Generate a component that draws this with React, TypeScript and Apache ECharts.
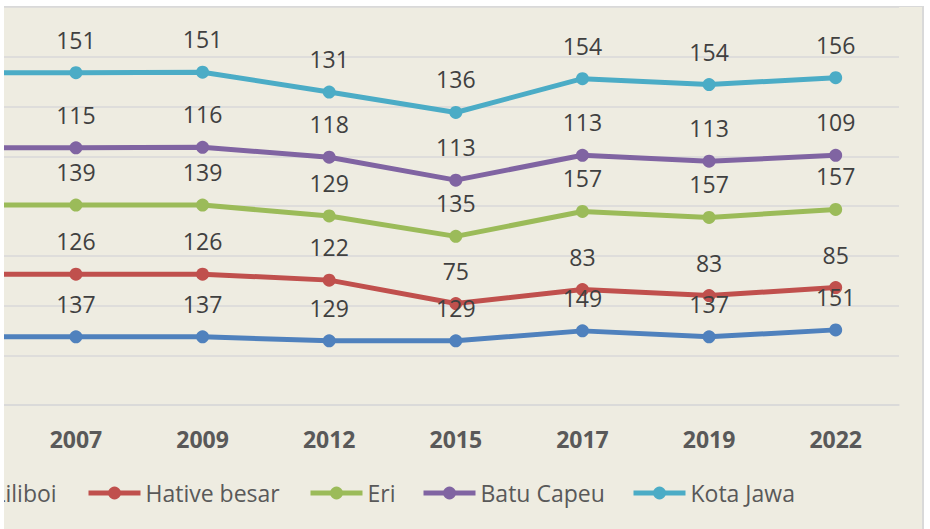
import React, { useEffect, useRef } from "react";
import * as echarts from "echarts";

const categories = ["2005", "2007", "2009", "2012", "2015", "2017", "2019", "2022"];
const seriesNames = ["Liliboi", "Hative besar", "Eri", "Batu Capeu", "Kota Jawa"];
const liliboi = [137, 137, 137, 129, 129, 149, 137, 151];
const hativeBesar = [126, 126, 126, 122, 75, 83, 83, 85];
const eri = [139, 139, 139, 129, 135, 157, 157, 157];
const batuCapeu = [115, 115, 116, 118, 113, 113, 113, 109];
const kotaJawa = [151, 151, 151, 131, 136, 154, 154, 156];
const colors = ["#4F81BD", "#C0504D", "#9BBB59", "#8064A2", "#4BACC6"];
const legendLefts = [68, 220, 442, 555, 765];

const FONT = "'Open Sans', 'Noto Sans', sans-serif";

export default function App() {
  const ref = useRef<HTMLDivElement>(null);
  useEffect(() => {
    if (!ref.current) return;
    const chart = echarts.init(ref.current, undefined, { renderer: "svg" });
    const values = [liliboi, hativeBesar, eri, batuCapeu, kotaJawa];
    chart.setOption({
      animation: false,
      backgroundColor: "transparent",
      grid: { left: 20, right: 31, top: 7, bottom: 124, containLabel: false },
      legend: seriesNames.map((n, i) => ({
        data: [n],
        left: legendLefts[i],
        top: 481,
        itemWidth: 52,
        itemHeight: 16,
        itemGap: 0,
        padding: 0,
        lineStyle: { width: 5 },
        textStyle: { fontSize: 23, color: "#595959", fontFamily: FONT, lineHeight: 24 },
      })),
      xAxis: {
        type: "category",
        data: categories,
        boundaryGap: true,
        axisLine: { show: true, lineStyle: { color: "#D9D9D9", width: 1.5 } },
        axisTick: { show: false },
        axisLabel: {
          margin: 22,
          fontSize: 23,
          fontWeight: "bold",
          color: "#595959",
          fontFamily: FONT,
          interval: 0,
          formatter: (v: string, idx: number) => (idx === 0 ? "" : v),
        },
      },
      yAxis: {
        type: "value",
        min: 0,
        max: 800,
        interval: 100,
        axisLabel: { show: false },
        axisLine: { show: false },
        axisTick: { show: false },
        splitLine: { lineStyle: { color: "#D9D9D9", width: 1.5 } },
      },
      series: seriesNames.map((n, i) => ({
        name: n,
        type: "line",
        stack: "total",
        data: values[i],
        symbol: "circle",
        symbolSize: 13,
        color: colors[i],
        lineStyle: { width: 5, color: colors[i] },
        itemStyle: { color: colors[i] },
        label: {
          show: true,
          position: "top",
          distance: 15,
          fontSize: 23,
          color: "#404040",
          fontFamily: FONT,
          formatter: (p: any) => (p.dataIndex === 0 ? "" : String(p.value)),
        },
      })),
    });
    return () => chart.dispose();
  }, []);

  return (
    <div style={{ position: "fixed", left: 0, top: 0, width: 930, height: 529, background: "#ffffff", overflow: "hidden" }}>
      <div
        style={{
          position: "absolute",
          left: 4,
          top: 6,
          width: 918,
          height: 530,
          overflow: "hidden",
          background: "#EEECE1",
          borderTop: "1px solid #D9D9D9",
          borderRight: "2px solid #D9D9D9",
        }}
      >
        <div ref={ref} style={{ position: "absolute", left: -138, top: -7, width: 1064, height: 529 }} />
      </div>
    </div>
  );
}
